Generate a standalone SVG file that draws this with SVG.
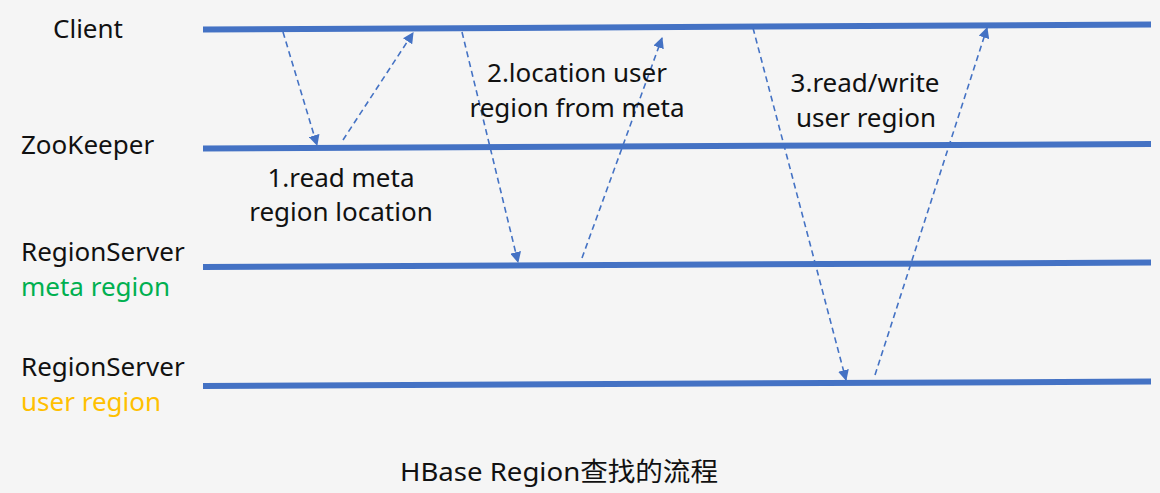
<svg xmlns="http://www.w3.org/2000/svg" width="1160" height="493" viewBox="0 0 1160 493">
<defs>
<marker id="ah" viewBox="0 0 10 10" refX="9" refY="5" markerWidth="11" markerHeight="11" markerUnits="userSpaceOnUse" orient="auto">
<path d="M0,0 L10,5 L0,10 z" fill="#4472C4"/>
</marker>
<style>
.lane{stroke:#4472C4;stroke-width:6;fill:none}
.msg{stroke:#4472C4;stroke-width:1.6;stroke-dasharray:6 4;fill:none;marker-end:url(#ah)}
text{font-family:"Noto Sans","Noto Sans CJK SC",sans-serif;font-size:26px;fill:#111}
.c{text-anchor:middle}
</style>
</defs>
<rect width="1160" height="493" fill="#f5f5f5"/>
<g id="client">
<line class="lane" x1="203" y1="29.5" x2="1151" y2="24.5"/>
<text x="53" y="38">Client</text>
</g>
<g id="zookeeper">
<line class="lane" x1="203" y1="148.5" x2="1151" y2="144"/>
<text x="21" y="154">ZooKeeper</text>
</g>
<g id="meta-regionserver">
<line class="lane" x1="203" y1="267" x2="1151" y2="262.5"/>
<text x="21" y="261">RegionServer</text>
<text x="21" y="296" style="fill:#00B050">meta region</text>
</g>
<g id="user-regionserver">
<line class="lane" x1="203" y1="386" x2="1151" y2="381.5"/>
<text x="21" y="376">RegionServer</text>
<text x="21" y="411" style="fill:#FFC000">user region</text>
</g>
<g id="connectors">
<line class="msg" x1="283" y1="32" x2="317" y2="145"/>
<line class="msg" x1="343" y1="140" x2="413" y2="33"/>
<line class="msg" x1="462" y1="32" x2="518" y2="262"/>
<line class="msg" x1="582" y1="258" x2="662" y2="38"/>
<line class="msg" x1="753" y1="28" x2="846" y2="380"/>
<line class="msg" x1="875" y1="375" x2="987" y2="28"/>
</g>
<g id="labels">
<text class="c" x="341" y="187">1.read meta</text>
<text class="c" x="341" y="221">region location</text>
<text class="c" x="577" y="82">2.location user</text>
<text class="c" x="577" y="117">region from meta</text>
<text class="c" x="865" y="92">3.read/write</text>
<text class="c" x="866" y="127">user region</text>
</g>
<g id="title">
<text x="400" y="481" textLength="318" lengthAdjust="spacingAndGlyphs">HBase Region查找的流程</text>
</g>
</svg>
